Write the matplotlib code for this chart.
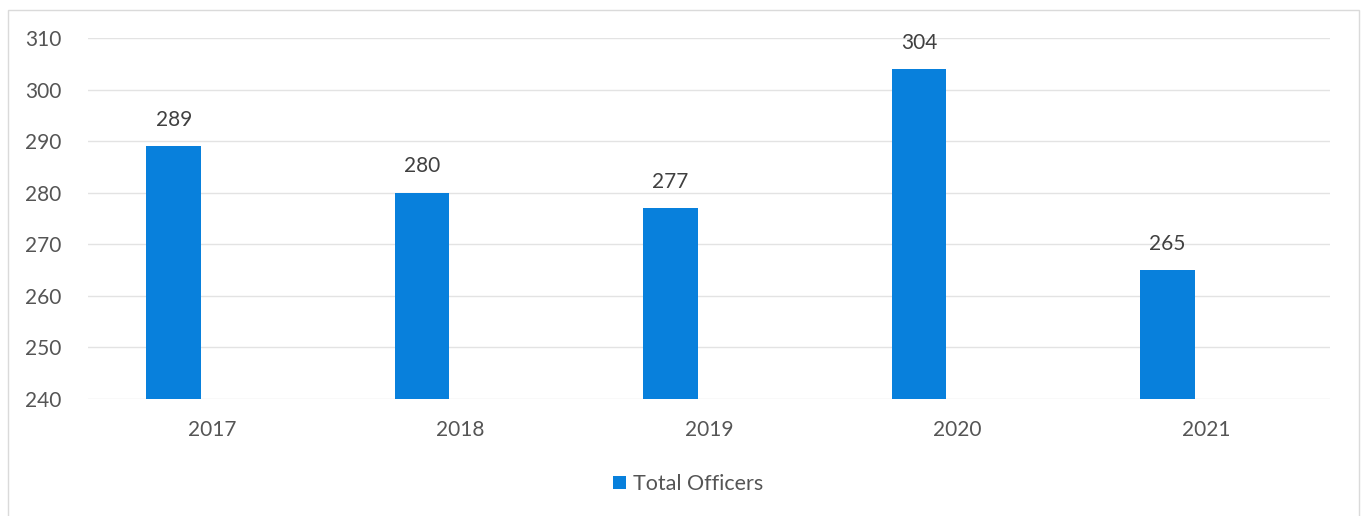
import matplotlib
matplotlib.use("Agg")
import matplotlib.pyplot as plt
from matplotlib.patches import Rectangle, Patch
import numpy as np

years = ["2017", "2018", "2019", "2020", "2021"]
total_officers = [289, 280, 277, 304, 265]
y_ticks = [240, 250, 260, 270, 280, 290, 300, 310]

BAR_COLOR = "#0880DC"
TEXT_COLOR = "#555555"
GRID_COLOR = "#E3E3E3"

plt.rcParams["font.family"] = ["Lato", "DejaVu Sans"]

W, H = 1367, 516
fig = plt.figure(figsize=(W / 100, H / 100), dpi=100)
fig.patch.set_facecolor("white")

# outer chart frame
fig.add_artist(Rectangle((8 / W, -0.05), (1359 - 8) / W, 1.05 - 10 / H,
                         transform=fig.transFigure, fill=False,
                         edgecolor="#DADADA", linewidth=1.0))

ax = fig.add_axes([88 / W, 117 / H, (1330 - 88) / W, (399 - 38) / H])
x = np.arange(len(years))
offset, width = -0.155, 0.22
ax.bar(x + offset, total_officers, width=width, bottom=0,
       color=BAR_COLOR, label="Total Officers", zorder=3)

for xi, v in zip(x, total_officers):
    ax.annotate(str(v), (xi + offset, v), xytext=(0, 19), textcoords="offset points",
                ha="center", va="center", fontsize=15, color="#404040")

ax.set_xlim(-0.5, len(years) - 0.5)
ax.set_ylim(240, 310)
ax.set_yticks(y_ticks)
ax.set_xticks(x)
ax.set_xticklabels(years)
ax.tick_params(axis="both", length=0, colors=TEXT_COLOR, labelsize=15)
ax.tick_params(axis="y", pad=19)
ax.tick_params(axis="x", pad=15)
ax.grid(axis="y", color=GRID_COLOR, linewidth=1.0, zorder=0)
for s in ax.spines.values():
    s.set_visible(False)

fig.legend(handles=[Patch(facecolor=BAR_COLOR, label="Total Officers")],
           loc="center", bbox_to_anchor=(688 / W, 1 - 484 / H), frameon=False,
           fontsize=15.5, labelcolor=TEXT_COLOR, handlelength=0.6, handleheight=0.6,
           handletextpad=0.35)

fig.savefig("out.png", dpi=100)
